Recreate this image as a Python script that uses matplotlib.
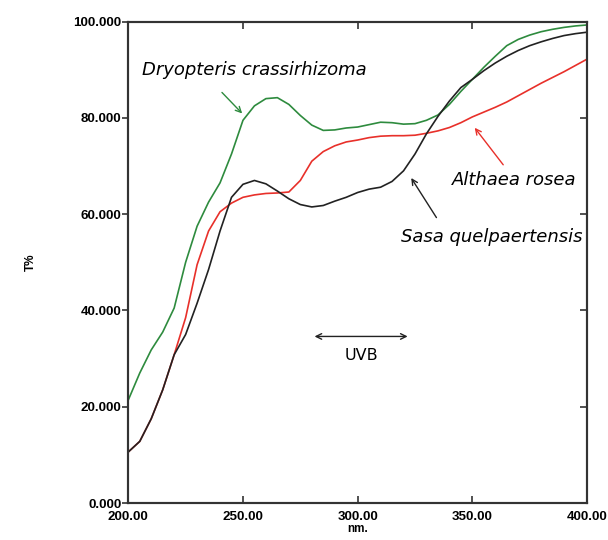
#import the python libraries
import numpy as np
import matplotlib
matplotlib.use('Agg')
import matplotlib.pyplot as plt

#wavelength grid (nm)
wavelength=[200,205,210,215,220,225,230,235,240,245,250,255,260,265,270,275,280,285,290,295,300,
            305,310,315,320,325,330,335,340,345,350,355,360,365,370,375,380,385,390,395,400]
#transmittance (T%) for each extract
dryopteris=[21.4,27.0,31.8,35.5,40.5,50.0,57.5,62.5,66.5,72.5,79.5,82.5,84.0,84.2,82.8,80.5,78.5,77.4,77.5,77.9,78.1,
            78.6,79.1,79.0,78.7,78.8,79.5,80.6,82.8,85.5,88.0,90.5,92.8,95.0,96.3,97.2,97.9,98.4,98.8,99.1,99.3]
sasa=[10.6,12.8,17.5,23.5,30.8,35.0,41.5,48.5,56.5,63.5,66.2,67.0,66.3,64.8,63.2,62.0,61.5,61.8,62.7,63.5,64.5,
      65.2,65.6,66.8,69.0,72.5,76.7,80.3,83.5,86.3,88.0,89.8,91.4,92.8,94.0,95.0,95.8,96.5,97.1,97.5,97.8]
althaea=[10.6,12.8,17.5,23.5,30.8,38.5,49.5,56.5,60.5,62.3,63.5,64.0,64.3,64.4,64.6,67.0,71.0,73.0,74.2,75.0,75.4,
         75.9,76.2,76.3,76.3,76.4,76.8,77.3,78.0,79.0,80.2,81.2,82.2,83.3,84.6,85.9,87.2,88.4,89.6,90.9,92.2]
#tick labels
xticks=[200,250,300,350,400]
yticks=[0,20,40,60,80,100]
#UVB band marker
uvb=[280,323]

#create the figure
fig=plt.figure(figsize=(6.08,5.40),dpi=100)
ax=fig.add_axes([0.211,0.0685,0.7545,0.8915])

ax.plot(wavelength,dryopteris,color='#2e8b3e',lw=1.2)
ax.plot(wavelength,althaea,color='#e8302a',lw=1.2)
ax.plot(wavelength,sasa,color='#222222',lw=1.2)

ax.set_xlim(200,400)
ax.set_ylim(0,100)
ax.set_xticks(xticks)
ax.set_xticklabels(['%.2f'%t for t in xticks])
ax.set_yticks(yticks)
ax.set_yticklabels(['%.3f'%t for t in yticks])
for lab in ax.get_xticklabels()+ax.get_yticklabels():
    lab.set_fontweight('bold')
    lab.set_fontfamily('Liberation Sans')
    lab.set_fontsize(9.6)
ax.tick_params(axis='x',direction='in',top=True,length=5,width=1.2,pad=6,colors='#333333',labelcolor='black')
ax.tick_params(axis='y',direction='out',length=4,width=1.2,pad=1,colors='#333333',labelcolor='black')
#right side ticks point inward
ax2=ax.twinx()
ax2.set_ylim(0,100)
ax2.set_yticks(yticks)
ax2.tick_params(axis='y',direction='in',length=5,width=1.2,labelright=False,colors='#333333')
for a in [ax,ax2]:
    for s in a.spines.values():
        s.set_linewidth(1.5)
        s.set_color('#333333')

ax.set_xlabel('nm.',fontsize=8.5,fontweight='bold',family='Liberation Sans',labelpad=0)
ax.set_ylabel('T%',fontsize=8.5,fontweight='bold',family='Liberation Sans',labelpad=26)

#species labels with arrows
ax.text(206,89.9,'Dryopteris crassirhizoma',fontsize=13,style='italic',va='center',ha='left')
ax.annotate('',xy=(250.5,80.5),xytext=(240,85.7),
            arrowprops=dict(arrowstyle='->',color='#2e8b3e',lw=1))
ax.text(341,67.0,'Althaea rosea',fontsize=13,style='italic',va='center',ha='left')
ax.annotate('',xy=(350.3,78.4),xytext=(364.2,69.8),
            arrowprops=dict(arrowstyle='->',color='#e8302a',lw=1))
ax.text(398,55.2,'Sasa quelpaertensis',fontsize=13,style='italic',va='center',ha='right')
ax.annotate('',xy=(322.7,68.0),xytext=(335,58.8),
            arrowprops=dict(arrowstyle='->',color='#222222',lw=1))

#UVB range
ax.annotate('',xy=(uvb[0],34.6),xytext=(uvb[1],34.6),
            arrowprops=dict(arrowstyle='<->',color='#222222',lw=1))
ax.text(np.mean(uvb),30.6,'UVB',fontsize=11.5,ha='center',va='center')

plt.savefig('out.png',dpi=100)
